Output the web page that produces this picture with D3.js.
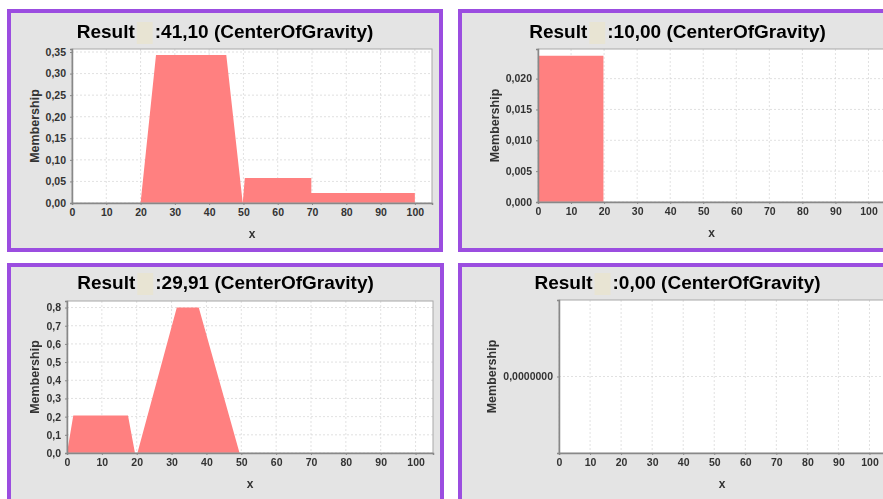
<!DOCTYPE html>
<html>
<head>
<meta charset="utf-8">
<script src="https://cdn.jsdelivr.net/npm/d3@7"></script>
<style>
  body { margin: 0; background: #fff; }
  svg { display: block; font-family: "Liberation Sans", Arial, sans-serif; filter: blur(0.45px); }
</style>
</head>
<body>
<svg id="chart" width="883" height="499"></svg>
<script>
// values
var titles = ["41,10", "10,00", "29,91", "0,00"];
var xTicks = [0, 10, 20, 30, 40, 50, 60, 70, 80, 90, 100];

var res1X = [0, 20, 24.5, 45, 49.8, 50.4, 69.8, 69.8, 100, 100];
var res1Y = [0, 0, 0.343, 0.343, 0, 0.058, 0.058, 0.023, 0.023, 0];
var yTicks1 = [0, 0.05, 0.10, 0.15, 0.20, 0.25, 0.30, 0.35];

var res2X = [0, 0, 19.8, 19.8];
var res2Y = [0, 0.0237, 0.0237, 0];
var yTicks2 = [0, 0.005, 0.010, 0.015, 0.020];

var res3X = [0, 1.8, 17.5, 19.5, 20.2, 31.5, 37.8, 49.5];
var res3Y = [0, 0.206, 0.206, 0, 0, 0.8, 0.8, 0];
var yTicks3 = [0, 0.1, 0.2, 0.3, 0.4, 0.5, 0.6, 0.7, 0.8];

var res4X = [];
var res4Y = [];
var yTicks4 = [0];

function comma(spec) {
  var f = d3.format(spec);
  return function(d) { return f(d).replace(".", ","); };
}

var panels = [
  { box: [7, 9, 443, 252], plot: [72, 49, 432, 203], yDomain: [0, 0.357], ticks: yTicks1, fmt: comma(".2f"), xs: res1X, ys: res1Y, title: titles[0], base: 38 },
  { box: [458, 9, 897, 252], plot: [538, 49, 885, 202], yDomain: [0, 0.0248], ticks: yTicks2, fmt: comma(".3f"), xs: res2X, ys: res2Y, title: titles[1], base: 38 },
  { box: [7, 263, 444, 520], plot: [67, 301, 433, 453], yDomain: [0, 0.836], ticks: yTicks3, fmt: comma(".1f"), xs: res3X, ys: res3Y, title: titles[2], base: 289 },
  { box: [458, 263, 897, 520], plot: [559, 300, 885, 453], yDomain: [-1, 1], ticks: yTicks4, fmt: comma(".7f"), xs: res4X, ys: res4Y, title: titles[3], base: 289 }
];

var svg = d3.select("#chart");

panels.forEach(function(p) {
  var g = svg.append("g");
  var L = p.plot[0], T = p.plot[1], R = p.plot[2], B = p.plot[3];

  g.append("rect")
    .attr("x", p.box[0] + 2).attr("y", p.box[1] + 2)
    .attr("width", p.box[2] - p.box[0] - 4).attr("height", p.box[3] - p.box[1] - 4)
    .attr("fill", "#e4e4e4")
    .attr("stroke", "#9b4de0").attr("stroke-width", 4);

  var x = d3.scaleLinear().domain([0, 105]).range([L, R]);
  var y = d3.scaleLinear().domain(p.yDomain).range([B, T]);

  g.append("rect").attr("x", L).attr("y", T).attr("width", R - L).attr("height", B - T)
    .attr("fill", "#fff");

  // grid
  g.selectAll(".vg").data(xTicks).enter().append("line")
    .attr("x1", function(d) { return x(d); }).attr("x2", function(d) { return x(d); })
    .attr("y1", T).attr("y2", B)
    .attr("stroke", "#d4d4d4").attr("stroke-width", 0.7).attr("stroke-dasharray", "2,2");
  g.selectAll(".hg").data(p.ticks).enter().append("line")
    .attr("x1", L).attr("x2", R)
    .attr("y1", function(d) { return y(d); }).attr("y2", function(d) { return y(d); })
    .attr("stroke", "#d4d4d4").attr("stroke-width", 0.7).attr("stroke-dasharray", "2,2");

  if (p.xs.length) {
    var area = d3.area()
      .x(function(d) { return x(d[0]); })
      .y0(y(0))
      .y1(function(d) { return y(d[1]); });
    g.append("path").datum(d3.zip(p.xs, p.ys))
      .attr("d", area)
      .attr("fill", "#ff8080");
  }

  g.append("rect").attr("x", L).attr("y", T).attr("width", R - L).attr("height", B - T)
    .attr("fill", "none").attr("stroke", "#a8a8a8").attr("stroke-width", 1);

  var xAxis = g.append("g").attr("transform", "translate(0," + B + ")")
    .call(d3.axisBottom(x).tickValues(xTicks).tickSize(2).tickPadding(4).tickFormat(d3.format("d")));
  var yAxis = g.append("g").attr("transform", "translate(" + L + ",0)")
    .call(d3.axisLeft(y).tickValues(p.ticks).tickSize(2).tickPadding(4).tickFormat(p.fmt));
  [xAxis, yAxis].forEach(function(a) {
    a.select(".domain").attr("stroke", "#888").attr("stroke-width", 1.5);
    a.selectAll(".tick line").attr("stroke", "#888");
    a.selectAll("text").attr("fill", "#333").attr("font-size", 10.5).attr("font-weight", "bold")
      .attr("font-family", "'Liberation Sans', Arial, sans-serif");
  });

  // axis titles
  var minX = d3.min(yAxis.selectAll("text").nodes(), function(n) { return n.getBBox().x; }) + L;
  g.append("text")
    .attr("transform", "translate(" + (minX - 7) + "," + ((T + B) / 2) + ")rotate(-90)")
    .attr("text-anchor", "middle").attr("font-size", 12.5).attr("font-weight", "bold").attr("fill", "#333")
    .text("Membership");
  g.append("text")
    .attr("x", (L + R) / 2).attr("y", B + 35)
    .attr("text-anchor", "middle").attr("font-size", 12).attr("font-weight", "bold").attr("fill", "#333")
    .text("x");

  // title: "Result" + highlighted blank + value
  var cx = (p.box[0] + p.box[2]) / 2;
  var hl = g.append("rect").attr("y", p.base - 16).attr("width", 16).attr("height", 22)
    .attr("fill", "#e8e4d3");
  var t1 = g.append("text").attr("y", p.base).attr("font-size", 19).attr("font-weight", "bold").text("Result");
  var t2 = g.append("text").attr("y", p.base).attr("font-size", 19).attr("font-weight", "bold")
    .text(":" + p.title + " (CenterOfGravity)");
  var w1 = t1.node().getComputedTextLength(), w2 = t2.node().getComputedTextLength();
  var gap = 20;
  var x0 = cx - (w1 + gap + w2) / 2;
  t1.attr("x", x0);
  hl.attr("x", x0 + w1 + 2);
  t2.attr("x", x0 + w1 + gap);
});
</script>
</body>
</html>
